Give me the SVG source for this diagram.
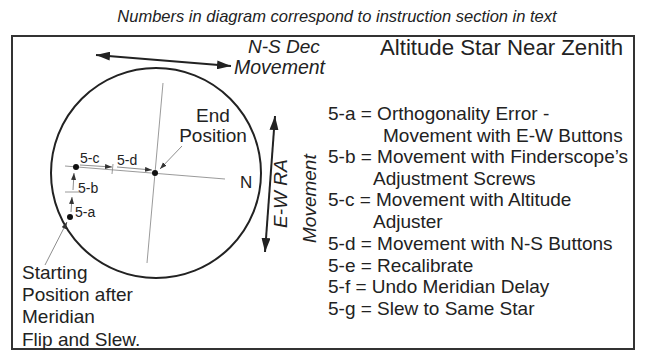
<svg xmlns="http://www.w3.org/2000/svg" width="645" height="352" viewBox="0 0 645 352">
<style>
.t{font-family:"Liberation Sans",Arial,sans-serif;fill:#222}
.it{font-style:italic}
.thin{stroke:#808080;stroke-width:0.8;fill:none}
.ptr{stroke:#707070;stroke-width:0.8;fill:none}
.thick{stroke:#222;stroke-width:2;fill:none}
</style>
<defs>
<marker id="bigArrow" markerUnits="userSpaceOnUse" markerWidth="15" markerHeight="9" refX="14" refY="4.5" orient="auto-start-reverse"><path d="M0,0 L14,4.5 L0,9 z" fill="#222"/></marker>
<marker id="smallArrow" markerUnits="userSpaceOnUse" markerWidth="8" markerHeight="6" refX="7" refY="2.5" orient="auto"><path d="M0,0 L7,2.5 L0,5 z" fill="#333"/></marker>
</defs>
<rect width="645" height="352" fill="#fff"/>
<text class="t it" x="337" y="22" font-size="16.5" text-anchor="middle" fill="#333">Numbers in diagram correspond to instruction section in text</text>
<rect x="12" y="36" width="622" height="313" fill="none" stroke="#333" stroke-width="2"/>

<g id="field">
<circle cx="156" cy="173" r="105" class="thick"/>
<line x1="163" y1="83" x2="147" y2="263" class="thin"/>
<line x1="65" y1="166" x2="225" y2="179" class="thin"/>
<text class="t" x="240" y="188" font-size="17">N</text>
</g>

<g id="title"><text class="t" x="380" y="55" font-size="22" textLength="243" lengthAdjust="spacingAndGlyphs">Altitude Star Near Zenith</text></g>

<g id="ns-dec">
<text class="t it" x="248" y="53" font-size="19">N-S Dec</text>
<text class="t it" x="234" y="74" font-size="19.5">Movement</text>
</g>

<g id="ew-ra">
<text class="t it" transform="translate(287,228) rotate(-90)" font-size="19">E-W RA</text>
<text class="t it" transform="translate(316,243) rotate(-90)" font-size="19">Movement</text>
</g>

<g id="start">
<circle cx="70" cy="217" r="3" fill="#111"/>
<text class="t" x="22" y="279" font-size="19">Starting</text>
<text class="t" x="22" y="301" font-size="19">Position after</text>
<text class="t" x="22" y="323" font-size="19">Meridian</text>
<text class="t" x="22" y="346" font-size="19">Flip and Slew.</text>
</g>

<g id="point-b"><circle cx="76" cy="167" r="3" fill="#111"/></g>

<g id="end">
<circle cx="155" cy="173" r="3" fill="#111"/>
<text class="t" x="213" y="122" font-size="19" text-anchor="middle">End</text>
<text class="t" x="213" y="142" font-size="19" text-anchor="middle">Position</text>
</g>

<g id="step-labels">
<text class="t" x="75" y="217" font-size="14">5-a</text>
<text class="t" x="78" y="193" font-size="14">5-b</text>
<text class="t" x="80" y="163" font-size="14">5-c</text>
<text class="t" x="117" y="165" font-size="14">5-d</text>
</g>

<g id="legend">
<text class="t" x="328" y="120" font-size="19">5-a = Orthogonality Error -</text>
<text class="t" x="383" y="141.5" font-size="19">Movement with E-W Buttons</text>
<text class="t" x="328" y="163" font-size="19">5-b = Movement with Finderscope’s</text>
<text class="t" x="373" y="184.5" font-size="19">Adjustment Screws</text>
<text class="t" x="328" y="206" font-size="19">5-c = Movement with Altitude</text>
<text class="t" x="373" y="227.5" font-size="19">Adjuster</text>
<text class="t" x="328" y="250" font-size="19">5-d = Movement with N-S Buttons</text>
<text class="t" x="328" y="271.5" font-size="19">5-e = Recalibrate</text>
<text class="t" x="328" y="293" font-size="19">5-f = Undo Meridian Delay</text>
<text class="t" x="328" y="314.5" font-size="19">5-g = Slew to Same Star</text>
</g>

<g id="connectors">
<line x1="96" y1="55" x2="231" y2="66" class="thick" marker-start="url(#bigArrow)" marker-end="url(#bigArrow)"/>
<line x1="275" y1="116" x2="265" y2="252" class="thick" marker-start="url(#bigArrow)" marker-end="url(#bigArrow)"/>
<line x1="182" y1="146" x2="160" y2="169" class="ptr" marker-end="url(#smallArrow)"/>
<line x1="45" y1="265" x2="67" y2="222" class="ptr" marker-end="url(#smallArrow)"/>
<line x1="71" y1="212" x2="72" y2="197" class="ptr" marker-end="url(#smallArrow)"/>
<line x1="65" y1="192" x2="83" y2="192" class="thin"/>
<line x1="73" y1="190" x2="74" y2="173" class="ptr" marker-end="url(#smallArrow)"/>
<line x1="80" y1="165" x2="112" y2="167" class="ptr" marker-end="url(#smallArrow)"/>
<line x1="113" y1="164" x2="112" y2="174" class="thin"/>
<line x1="117" y1="167" x2="152" y2="170" class="ptr" marker-end="url(#smallArrow)"/>
</g>
</svg>
